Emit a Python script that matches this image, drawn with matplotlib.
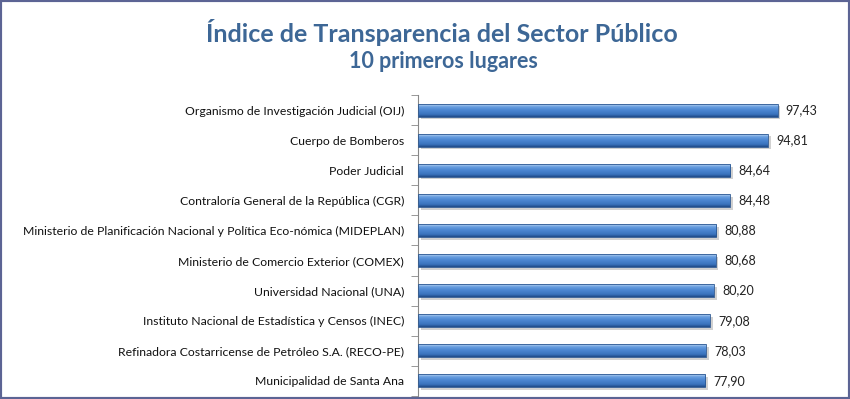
import numpy as np
import matplotlib.pyplot as plt
from matplotlib.patches import Rectangle
from matplotlib.colors import LinearSegmentedColormap
import matplotlib.transforms as mtransforms

# Data
instituciones = [
    'Organismo de Investigación Judicial (OIJ)',
    'Cuerpo de Bomberos',
    'Poder Judicial',
    'Contraloría General de la República (CGR)',
    'Ministerio de Planificación Nacional y Política Eco-nómica (MIDEPLAN)',
    'Ministerio de Comercio Exterior (COMEX)',
    'Universidad Nacional (UNA)',
    'Instituto Nacional de Estadística y Censos (INEC)',
    'Refinadora Costarricense de Petróleo S.A. (RECO-PE)',
    'Municipalidad de Santa Ana',
]
indice = [97.43, 94.81, 84.64, 84.48, 80.88, 80.68, 80.20, 79.08, 78.03, 77.90]
etiquetas = ['97,43', '94,81', '84,64', '84,48', '80,88', '80,68', '80,20', '79,08', '78,03', '77,90']

plt.rcParams['font.family'] = ['Lato', 'DejaVu Sans']

fig = plt.figure(figsize=(8.5, 3.99), dpi=100)
ax = fig.add_axes([418 / 850, 1 - 396 / 399, (787 - 418) / 850, (396 - 95) / 399])

n = len(indice)
ypos = np.arange(n)
h = 0.43

# dark at bottom, light highlight at top
cmap = LinearSegmentedColormap.from_list(
    'barra', [(0.0, '#1f4a86'), (0.2, '#3a72bd'), (0.55, '#4d88d2'),
              (0.8, '#6a9fe0'), (1.0, '#c0d8f3')])
grad = np.linspace(0, 1, 64).reshape(-1, 1)

shadow_off = mtransforms.offset_copy(ax.transData, fig=fig, x=2, y=-2, units='points')
for y, v in zip(ypos, indice):
    ax.add_patch(Rectangle((0, y - h / 2), v, h, facecolor='#9a9a9a', alpha=0.45,
                           edgecolor='none', transform=shadow_off, zorder=1))
    rect = Rectangle((0, y - h / 2), v, h, facecolor='none', edgecolor='#2b5791',
                     linewidth=0.6, zorder=3)
    ax.add_patch(rect)
    im = ax.imshow(grad, cmap=cmap, aspect='auto', origin='lower',
                   extent=(0, v, y + h / 2, y - h / 2), zorder=2)
    im.set_clip_path(rect)

for y, v, t in zip(ypos, indice, etiquetas):
    ax.annotate(t, (v, y), xytext=(6, 0), textcoords='offset points',
                va='center', ha='left', fontsize=9, color='#222222')

ax.set_xlim(0, 100)
ax.set_ylim(n - 0.5, -0.5)
ax.set_yticks(ypos)
ax.set_yticklabels(instituciones, fontsize=8.8, color='#111111')
ax.set_yticks(np.arange(-0.5, n, 1), minor=True)
ax.tick_params(axis='y', which='major', length=0, pad=10)
ax.tick_params(axis='y', which='minor', length=5, color='#888888', direction='out')
ax.set_xticks([])
for s in ['top', 'right', 'bottom']:
    ax.spines[s].set_visible(False)
ax.spines['left'].set_color('#888888')

fig.text(442 / 850, 1 - 33 / 399, 'Índice de Transparencia del Sector Público', ha='center', va='center',
         fontsize=18, fontweight='bold', color='#3d6796')
fig.text(443 / 850, 1 - 62 / 399, '10 primeros lugares', ha='center', va='center',
         fontsize=15.5, fontweight='bold', color='#3d6796')

fig.patches.append(Rectangle((0, 0), 1, 1, transform=fig.transFigure, fill=False,
                             edgecolor='#5c6494', linewidth=3))

fig.savefig('out.png', dpi=100)
